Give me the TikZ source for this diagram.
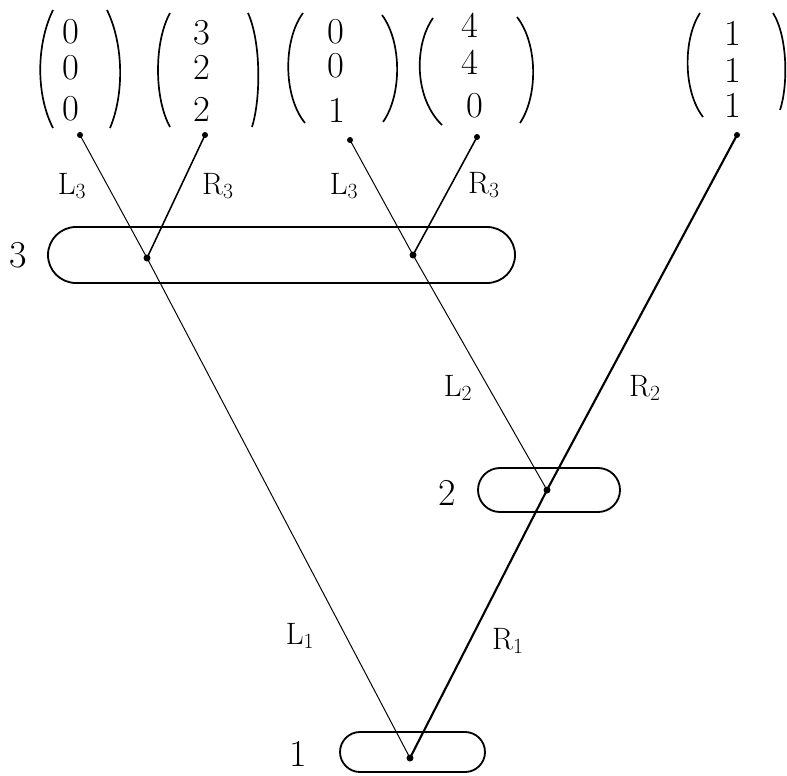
\documentclass[tikz,border=0pt]{standalone}
\usepackage{fontspec}
\usepackage{tikz}
\usetikzlibrary{shapes.misc}

\tikzset{
  entry/.style={font=\fontsize{26}{28}\selectfont, inner sep=0pt},
  lab/.style={font=\fontsize{22}{24}\selectfont, inner sep=0pt},
  levellab/.style={font=\fontsize{27}{29}\selectfont, inner sep=0pt},
  blob/.style={draw, line width=1.3pt, rounded rectangle, inner sep=0pt},
  paren/.style={line width=1.2pt},
  lline/.style={line width=0.7pt},
  rline/.style={line width=1.1pt},
  rrline/.style={line width=1.5pt},
}

\begin{document}
\begin{tikzpicture}[x=0.025cm, y=-0.025cm]
\useasboundingbox (0,0) rectangle (787,775);

% column vectors at the top
\node[entry] (v1a) at (71,32) {0};
\node[entry] (v1b) at (71,68) {0};
\node[entry] (v1c) at (71,109) {0};
\draw[paren] (53,10) .. controls (36,45) and (36,95) .. (53,128);
\draw[paren] (107,10) .. controls (124,45) and (124,95) .. (110,128);

\node[entry] (v2a) at (202,33) {3};
\node[entry] (v2b) at (202,67) {2};
\node[entry] (v2c) at (202,109) {2};
\draw[paren] (170,13) .. controls (154,42) and (154,98) .. (170,127);
\draw[paren] (248,13) .. controls (261,42) and (261,98) .. (252,127);

\node[entry] (v3a) at (336,32) {0};
\node[entry] (v3b) at (336,66) {0};
\node[entry] (v3c) at (337,110) {1};
\draw[paren] (303,13) .. controls (283,40) and (283,96) .. (305,123);
\draw[paren] (382,15) .. controls (402,42) and (402,95) .. (383,122);

\node[entry] (v4a) at (470,25) {4};
\node[entry] (v4b) at (470,62) {4};
\node[entry] (v4c) at (475,106) {0};
\draw[paren] (433,18) .. controls (414,45) and (414,98) .. (442,125);
\draw[paren] (517,17) .. controls (538,44) and (538,96) .. (520,123);

\node[entry] (v5a) at (733,33) {1};
\node[entry] (v5b) at (733,70) {1};
\node[entry] (v5c) at (733,105) {1};
\draw[paren] (700,13) .. controls (683,39) and (683,91) .. (703,117);
\draw[paren] (773,13) .. controls (788,37) and (788,86) .. (780,110);

% leaf points under the vectors
\coordinate (p1) at (80,135);
\coordinate (p2) at (205,135);
\coordinate (p3) at (350,140);
\coordinate (p4) at (477,137);
\coordinate (p5) at (737,135);

% the three levels
\node[blob, minimum width=467*0.025cm, minimum height=56*0.025cm] (b3) at (281.5,255) {};
\node[blob, minimum width=142*0.025cm, minimum height=44*0.025cm] (b2) at (549,490) {};
\node[blob, minimum width=145*0.025cm, minimum height=40*0.025cm] (b1) at (412.5,752) {};
\node[levellab] (n3) at (18,255) {3};
\node[levellab] (n2) at (447,493) {2};
\node[levellab] (n1) at (298,754) {1};

% branching points
\coordinate (q3a) at (147,258);
\coordinate (q3b) at (413,255);
\coordinate (q2) at (547,490);
\coordinate (q1) at (410,758);

% branches
\draw[lline] (q1) -- (q3a);
\draw[rrline] (q1) -- (q2);
\draw[lline] (q2) -- (q3b);
\draw[rrline] (q2) -- (p5);
\draw[lline] (q3a) -- (p1);
\draw[rline] (q3a) -- (p2);
\draw[lline] (q3b) -- (p3);
\draw[rline] (q3b) -- (p4);

% dots
\foreach \p in {p1,p2,p3,p4,p5}
  \fill (\p) circle (3);
\foreach \p in {q3a,q3b,q2,q1}
  \fill (\p) circle (3.5);

% branch labels
\node[lab] (l3a) at (72,186) {L\textsubscript{3}};
\node[lab] (r3a) at (218,186) {R\textsubscript{3}};
\node[lab] (l3b) at (344,186) {L\textsubscript{3}};
\node[lab] (r3b) at (484,185) {R\textsubscript{3}};
\node[lab] (l2) at (458,388) {L\textsubscript{2}};
\node[lab] (r2) at (645,388) {R\textsubscript{2}};
\node[lab] (r1) at (508,641) {R\textsubscript{1}};
\node[lab] (l1) at (300,636) {L\textsubscript{1}};

\end{tikzpicture}
\end{document}
